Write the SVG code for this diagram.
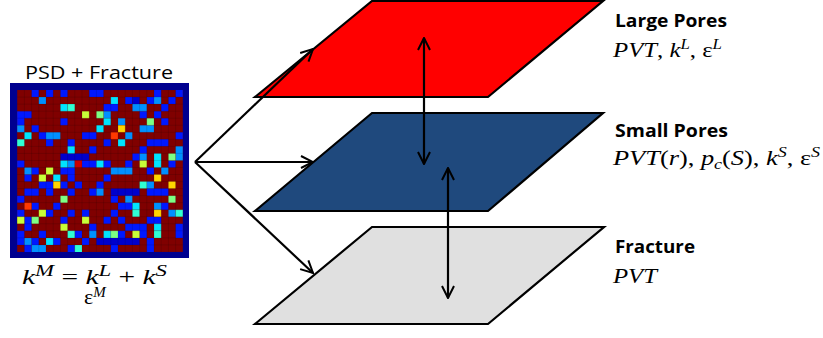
<svg xmlns="http://www.w3.org/2000/svg" width="823" height="338" viewBox="0 0 823 338">
<style>
.b{fill:#0018ff}.d{fill:#0000cc}.l{fill:#0090ff}.c{fill:#00e4ff}.t{fill:#30ffd4}.g{fill:#7cff84}.y{fill:#c8ff38}.yy{fill:#ffd400}.o{fill:#ff3800}.r{fill:#cc0000}
.plane{stroke:#000;stroke-width:2.2;stroke-linejoin:miter}
.conn{stroke:#000;stroke-width:2.2;fill:none}
.hd{font-family:"Open Sans","Liberation Sans",sans-serif;font-weight:700;font-size:17px;fill:#000}
.tt{font-family:"Open Sans","Liberation Sans",sans-serif;font-size:19px;fill:#000}
.m{font-family:"Liberation Serif","DejaVu Serif",serif;font-size:22px;fill:#000}
.i{font-style:italic}
</style>
<defs>
<marker id="ah" viewBox="0 0 14 14" refX="13" refY="7" markerWidth="14" markerHeight="14" markerUnits="userSpaceOnUse" orient="auto-start-reverse"><path d="M1,1 L13,7 L1,13" fill="none" stroke="#000" stroke-width="2"/></marker>
</defs>

<g id="psd-fracture">
<text class="tt" x="99" y="79" text-anchor="middle" textLength="148" lengthAdjust="spacingAndGlyphs">PSD + Fracture</text>
<rect x="10" y="83" width="179" height="175" fill="#00008f"/>
<g transform="translate(17.2,90.04) scale(7.2,7.04)">
<rect width="23" height="23" fill="#800000"/>
<path class="b" d="M2 0h1v1h-1zM4 0h1v1h-1zM6 0h1v1h-1zM10 0h2v1h-2zM19 0h1v1h-1zM22 0h1v1h-1zM15 1h1v1h-1zM18 1h1v1h-1zM21 1h1v1h-1zM12 2h2v1h-2zM20 2h1v1h-1zM0 3h2v1h-2zM17 3h1v1h-1zM19 3h1v1h-1zM0 4h1v1h-1zM6 4h1v1h-1zM20 4h1v1h-1zM2 5h1v1h-1zM3 6h1v1h-1zM9 6h2v1h-2zM22 6h1v1h-1zM4 7h1v1h-1zM7 7h1v1h-1zM12 7h1v1h-1zM18 7h3v1h-3zM10 8h1v1h-1zM17 8h1v1h-1zM16 9h1v1h-1zM0 10h1v1h-1zM9 10h2v1h-2zM12 10h1v1h-1zM15 10h1v1h-1zM21 10h1v1h-1zM2 11h1v1h-1zM6 11h2v1h-2zM18 11h1v1h-1zM1 12h1v1h-1zM7 12h1v1h-1zM12 12h1v1h-1zM3 13h2v1h-2zM6 13h1v1h-1zM8 13h1v1h-1zM11 13h1v1h-1zM1 14h2v1h-2zM4 14h1v1h-1zM7 14h1v1h-1zM10 14h1v1h-1zM18 14h3v1h-3zM0 15h1v1h-1zM13 15h1v1h-1zM2 16h1v1h-1zM5 16h1v1h-1zM14 16h2v1h-2zM20 16h1v1h-1zM0 17h1v1h-1zM4 17h1v1h-1zM7 17h1v1h-1zM9 17h1v1h-1zM13 17h1v1h-1zM1 18h1v1h-1zM6 18h1v1h-1zM12 18h1v1h-1zM14 18h1v1h-1zM18 18h2v1h-2zM1 19h1v1h-1zM10 19h1v1h-1zM15 19h3v1h-3zM22 19h1v1h-1zM0 20h1v1h-1zM3 20h1v1h-1zM8 20h1v1h-1zM14 20h1v1h-1zM17 20h1v1h-1zM22 20h1v1h-1zM0 21h1v1h-1zM2 21h1v1h-1zM5 21h1v1h-1zM9 21h1v1h-1zM18 21h1v1h-1zM1 22h1v1h-1zM7 22h1v1h-1zM13 22h1v1h-1zM18 22h1v1h-1z"/>
<path class="d" d="M16 1h1v1h-1zM6 9h4v1h-4zM13 14h4v1h-4zM11 21h6v1h-6z"/>
<path class="l" d="M3 1h1v1h-1zM19 1h1v1h-1zM16 2h2v1h-2zM12 3h1v1h-1zM14 4h1v1h-1zM0 5h1v1h-1zM17 5h2v1h-2zM4 6h2v1h-2zM15 6h1v1h-1zM22 8h1v1h-1zM17 9h1v1h-1zM22 9h1v1h-1zM7 10h1v1h-1zM1 11h1v1h-1zM13 11h3v1h-3zM20 11h1v1h-1zM18 13h1v1h-1zM11 14h1v1h-1zM15 15h1v1h-1zM19 16h1v1h-1zM21 17h1v1h-1zM10 20h1v1h-1zM1 21h1v1h-1zM2 22h2v1h-2z"/>
<path class="c" d="M13 1h1v1h-1zM6 2h1v1h-1zM12 4h1v1h-1zM11 5h1v1h-1zM1 6h1v1h-1zM14 7h1v1h-1zM7 8h1v1h-1zM19 9h1v1h-1zM6 10h1v1h-1zM11 10h1v1h-1zM19 10h1v1h-1zM5 12h1v1h-1zM16 16h1v1h-1zM19 19h1v1h-1zM12 20h1v1h-1zM4 21h1v1h-1z"/>
<path class="t" d="M7 2h1v1h-1zM0 7h1v1h-1zM17 13h1v1h-1zM16 17h1v1h-1zM22 17h1v1h-1zM7 20h1v1h-1zM19 20h1v1h-1zM8 22h1v1h-1z"/>
<path class="g" d="M11 3h1v1h-1zM18 4h1v1h-1zM21 9h1v1h-1zM6 15h1v1h-1zM21 15h1v1h-1zM2 18h1v1h-1zM13 20h1v1h-1z"/>
<path class="y" d="M9 3h1v1h-1zM17 10h1v1h-1zM4 11h1v1h-1zM3 12h1v1h-1zM3 17h1v1h-1zM0 18h1v1h-1zM9 18h1v1h-1zM6 19h1v1h-1zM16 20h1v1h-1z"/>
<path class="yy" d="M14 5h1v1h-1zM19 12h1v1h-1zM5 13h1v1h-1zM21 13h1v1h-1zM19 17h1v1h-1z"/>
<path class="o" d="M13 6h1v1h-1zM1 16h1v1h-1z"/>
<path class="r" d="M8 10h1v1h-1z"/>
<path d="M1 0V23M2 0V23M3 0V23M4 0V23M5 0V23M6 0V23M7 0V23M8 0V23M9 0V23M10 0V23M11 0V23M12 0V23M13 0V23M14 0V23M15 0V23M16 0V23M17 0V23M18 0V23M19 0V23M20 0V23M21 0V23M22 0V23M0 1H23M0 2H23M0 3H23M0 4H23M0 5H23M0 6H23M0 7H23M0 8H23M0 9H23M0 10H23M0 11H23M0 12H23M0 13H23M0 14H23M0 15H23M0 16H23M0 17H23M0 18H23M0 19H23M0 20H23M0 21H23M0 22H23" stroke="#000" stroke-opacity="0.22" stroke-width="0.6" vector-effect="non-scaling-stroke" fill="none"/>
</g>
<text class="m" x="22" y="284" font-size="25" textLength="145" lengthAdjust="spacingAndGlyphs"><tspan class="i">k</tspan><tspan class="i" dy="-8" font-size="17">M</tspan><tspan dy="8"> = </tspan><tspan class="i">k</tspan><tspan class="i" dy="-8" font-size="17">L</tspan><tspan dy="8"> + </tspan><tspan class="i">k</tspan><tspan class="i" dy="-8" font-size="17">S</tspan></text>
<text class="m" x="84" y="304" font-size="22">ε<tspan class="i" dy="-7" font-size="15">M</tspan></text>
</g>

<g id="plane-large"><polygon class="plane" points="372,1 603,1 488,97 255,97" fill="#ff0000"/></g>
<g id="plane-small"><polygon class="plane" points="372,113 603,113 488,211 255,211" fill="#1f497d"/></g>
<g id="plane-fracture"><polygon class="plane" points="372,227 604,227 488,324 255,324" fill="#e0e0e0"/></g>

<g id="connectors" class="conn">
<path d="M195,162 L313,49" marker-end="url(#ah)"/>
<path d="M195,162 H313" marker-end="url(#ah)"/>
<path d="M195,162 L313,273" marker-end="url(#ah)"/>
<path d="M424,38 V164" marker-start="url(#ah)" marker-end="url(#ah)"/>
<path d="M448,168 V298" marker-start="url(#ah)" marker-end="url(#ah)"/>
</g>

<g id="label-large">
<text class="hd" x="615" y="27" textLength="112" lengthAdjust="spacingAndGlyphs">Large Pores</text>
<text class="m" x="613" y="57" textLength="109" lengthAdjust="spacingAndGlyphs"><tspan class="i">PVT</tspan>, <tspan class="i">k</tspan><tspan class="i" dy="-8" font-size="15">L</tspan><tspan dy="8">, ε</tspan><tspan class="i" dy="-8" font-size="15">L</tspan></text>
</g>
<g id="label-small">
<text class="hd" x="615" y="137" textLength="113" lengthAdjust="spacingAndGlyphs">Small Pores</text>
<text class="m" x="613" y="165" textLength="207" lengthAdjust="spacingAndGlyphs"><tspan class="i">PVT</tspan>(<tspan class="i">r</tspan>), <tspan class="i">p</tspan><tspan class="i" dy="4" font-size="15">c</tspan><tspan dy="-4">(</tspan><tspan class="i">S</tspan>), <tspan class="i">k</tspan><tspan class="i" dy="-8" font-size="15">S</tspan><tspan dy="8">, ε</tspan><tspan class="i" dy="-8" font-size="15">S</tspan></text>
</g>
<g id="label-fracture">
<text class="hd" x="615" y="253" textLength="80" lengthAdjust="spacingAndGlyphs">Fracture</text>
<text class="m i" x="613" y="283" textLength="44" lengthAdjust="spacingAndGlyphs">PVT</text>
</g>
</svg>
